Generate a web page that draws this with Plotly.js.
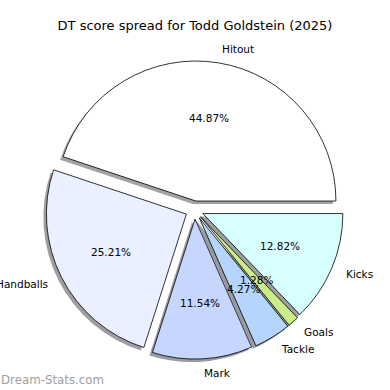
<!DOCTYPE html>
<html><head><meta charset="utf-8">
<script src="https://cdn.plot.ly/plotly-3.0.1.min.js"></script>
<style>html,body{margin:0;padding:0;background:#fff}#c{width:390px;height:390px}</style>
</head><body><div id="c"></div>
<script>
const labels = ["Hitout", "Handballs", "Mark", "Tackle", "Goals", "Kicks"];
const values = [44.87, 25.21, 11.54, 4.27, 1.28, 12.82];
const colors = ["#ffffff", "#eaf0ff", "#c6d6ff", "#b5d5ff", "#ccec8a", "#d8ffff"];
const titleText = "DT score spread for Todd Goldstein (2025)";
const watermark = "Dream-Stats.com";

// layout geometry (pixels)
const W = 390, H = 390;
const CX = 194.5, CY = 210, R = 140, PULL = 0.065;
const SH = 3; // shadow offset px
const ext = R * (1 + PULL);
const font = "DejaVu Sans, sans-serif";

function dom(dx, dy) {
  return {
    x: [(CX - ext + dx) / W, (CX + ext + dx) / W],
    y: [1 - (CY + ext + dy) / H, 1 - (CY - ext + dy) / H]
  };
}
function shadowColor(hex) {
  const n = parseInt(hex.slice(1), 16);
  const c = [(n >> 16) & 255, (n >> 8) & 255, n & 255].map(v => Math.round(255 * (0.48 + 0.5 * 0.3 * v / 255)));
  return "rgb(" + c.join(",") + ")";
}

const total = values.reduce((a, b) => a + b, 0);
// Plotly counterclockwise: first slice's start = rotation + its own span (clockwise from 12)
const rot = 90 - 360 * values[0] / total;
const common = {
  type: "pie", labels: labels, values: values, sort: false,
  direction: "counterclockwise", rotation: rot, pull: PULL,
  textinfo: "none", hoverinfo: "none", showlegend: false
};
const shadow = Object.assign({}, common, {
  domain: dom(-SH, SH),
  marker: {colors: colors.map(shadowColor), line: {width: 0}}
});
const pie = Object.assign({}, common, {
  domain: dom(0, 0),
  marker: {colors: colors, line: {color: "#000", width: 0.8}}
});

const ann = [];
let start = 0;
values.forEach((v, i) => {
  const span = 360 * v / total;
  const mid = (start + span / 2) * Math.PI / 180;
  start += span;
  const ex = CX + PULL * R * Math.cos(mid), ey = CY - PULL * R * Math.sin(mid);
  const lx = ex + 1.1 * R * Math.cos(mid), ly = ey - 1.1 * R * Math.sin(mid);
  const px = ex + 0.6 * R * Math.cos(mid), py = ey - 0.6 * R * Math.sin(mid);
  ann.push({xref: "paper", yref: "paper", x: lx / W, y: 1 - ly / H, text: labels[i],
    showarrow: false, xanchor: (lx - CX > 0 ? "left" : "right"), yanchor: "middle",
    font: {family: font, size: 10.5, color: "#000"}, borderpad: 0});
  ann.push({xref: "paper", yref: "paper", x: px / W, y: 1 - py / H,
    text: (100 * v / total).toFixed(2) + "%",
    showarrow: false, xanchor: "center", yanchor: "middle",
    font: {family: font, size: 10.5, color: "#000"}, borderpad: 0});
});
ann.push({xref: "paper", yref: "paper", x: 0, y: 1 - 380 / H, text: watermark,
  showarrow: false, xanchor: "left", yanchor: "middle", borderpad: 0,
  font: {family: font, size: 11.8, color: "#a0a0a0"}});

const layout = {
  width: W, height: H, margin: {l: 0, r: 0, t: 0, b: 0},
  paper_bgcolor: "#fff", plot_bgcolor: "#fff",
  title: {text: titleText, x: 0.5, xanchor: "center", y: 1 - 25 / H, yanchor: "middle",
    yref: "container", font: {family: font, size: 13, color: "#000"}},
  annotations: ann, showlegend: false
};
Plotly.newPlot("c", [shadow, pie], layout, {displayModeBar: false, staticPlot: true});
</script></body></html>
